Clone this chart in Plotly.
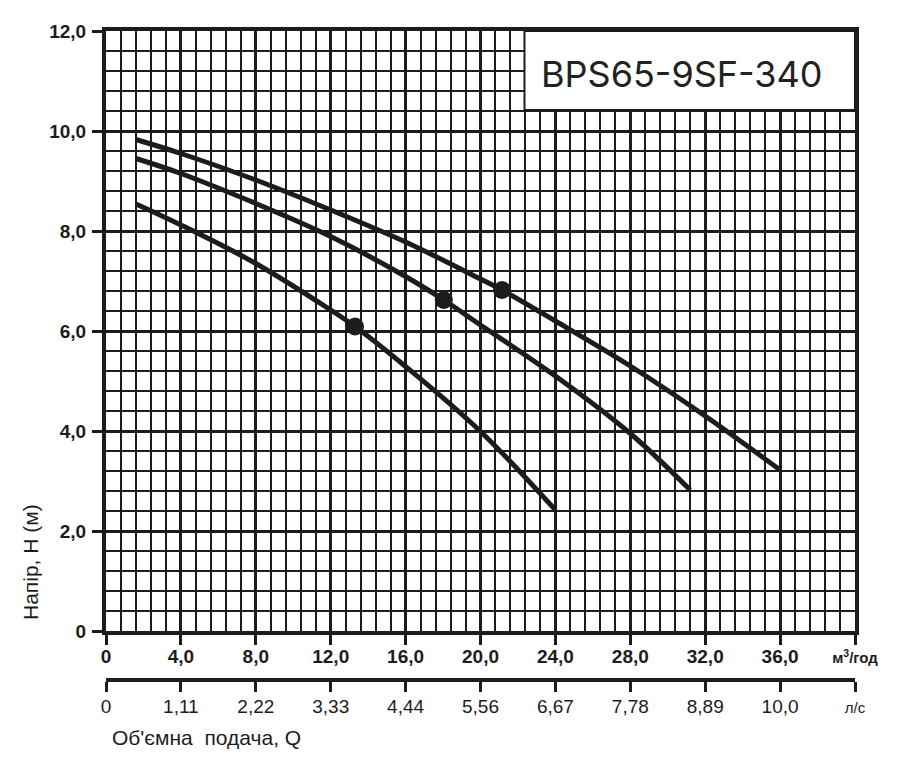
import plotly.graph_objects as go

# pump curves (Q in m3/h, H in m)
flow_top = [1.6, 4.0, 8.0, 12.0, 16.0, 20.0, 21.15, 24.0, 28.0, 32.0, 36.0]
head_top = [9.83, 9.55, 9.02, 8.42, 7.78, 7.04, 6.82, 6.2, 5.3, 4.3, 3.22]

flow_mid = [1.6, 4.0, 8.0, 12.0, 16.0, 18.04, 20.0, 24.0, 28.0, 31.2]
head_mid = [9.45, 9.15, 8.55, 7.89, 7.09, 6.62, 6.12, 5.1, 3.95, 2.82]

flow_low = [1.6, 4.0, 8.0, 12.0, 13.3, 16.0, 20.0, 24.0]
head_low = [8.54, 8.12, 7.35, 6.42, 6.09, 5.29, 3.99, 2.42]

duty_q = [21.15, 18.04, 13.3]
duty_h = [6.82, 6.62, 6.09]

q_ticks = [0, 4, 8, 12, 16, 20, 24, 28, 32, 36, 40]
q_labels = ["0", "4,0", "8,0", "12,0", "16,0", "20,0", "24,0", "28,0", "32,0", "36,0",
            "<span style='font-size:15px'>м<sup>3</sup>/год</span>"]
ls_labels = ["0", "1,11", "2,22", "3,33", "4,44", "5,56", "6,67", "7,78", "8,89", "10,0",
             "<span style='font-size:15px'>л/с</span>"]
h_ticks = [0, 2, 4, 6, 8, 10, 12]
h_labels = ["0", "2,0", "4,0", "6,0", "8,0", "10,0", "12,0"]

model = "BPS65-9SF-340"

INK = "#1c1c1c"
FONT = "Arial, Liberation Sans, sans-serif"

fig = go.Figure()
for q, h in [(flow_top, head_top), (flow_mid, head_mid), (flow_low, head_low)]:
    fig.add_trace(go.Scatter(x=q, y=h, mode="lines", line=dict(color=INK, width=5, shape="spline"),
                             showlegend=False, hoverinfo="skip"))
fig.add_trace(go.Scatter(x=duty_q, y=duty_h, mode="markers", marker=dict(color=INK, size=18),
                         showlegend=False, hoverinfo="skip"))
# dummy trace so the l/s axis is drawn
fig.add_trace(go.Scatter(x=[0], y=[0], xaxis="x2", mode="markers", marker=dict(opacity=0),
                         showlegend=False, hoverinfo="skip"))

# page has an 8px body margin, so the figure is sized to fit inside the window
W, H = 899, 751
L, R, T, B = 98, 52, 23, 45
plot_w = W - L - R
plot_h = H - T - B
bottom_frac = (H - B - 623) / plot_h
ls_pos = (H - B - 672) / plot_h

fig.update_layout(
    width=W, height=H,
    margin=dict(l=L, r=R, t=T, b=B),
    plot_bgcolor="white", paper_bgcolor="white",
    font=dict(family=FONT, color=INK),
    xaxis=dict(
        range=[0, 40], tickvals=q_ticks, ticktext=q_labels,
        tickfont=dict(size=19, weight="bold"), ticklabelstandoff=-5,
        showline=True, linewidth=4, linecolor=INK, mirror=True,
        showgrid=True, gridcolor=INK, gridwidth=3, zeroline=False,
        ticks="outside", ticklen=10, tickwidth=3, tickcolor=INK,
        minor=dict(dtick=0.8, tick0=0, showgrid=True, gridcolor=INK, gridwidth=1.5),
        anchor="y",
    ),
    xaxis2=dict(
        range=[0, 40], overlaying="x", anchor="free", position=ls_pos, side="bottom",
        tickvals=q_ticks, ticktext=ls_labels, tickfont=dict(size=19), ticklabelstandoff=-2,
        showline=True, linewidth=4, linecolor=INK, showgrid=False, zeroline=False,
        ticks="outside", ticklen=10, tickwidth=3, tickcolor=INK,
    ),
    yaxis=dict(
        range=[0, 12], domain=[bottom_frac, 1], tickvals=h_ticks, ticktext=h_labels,
        tickfont=dict(size=19, weight="bold"), ticklabelstandoff=2,
        showline=True, linewidth=4, linecolor=INK, mirror=True,
        showgrid=True, gridcolor=INK, gridwidth=3, zeroline=False,
        ticks="outside", ticklen=10, tickwidth=3, tickcolor=INK,
        minor=dict(dtick=0.4, tick0=0, showgrid=True, gridcolor=INK, gridwidth=1.5),
    ),
)

# model name box in the top right corner
fig.add_shape(type="rect", x0=22.35, x1=40, y0=10.42, y1=12, xref="x", yref="y",
              fillcolor="white", line=dict(color=INK, width=2), layer="above")
fig.add_annotation(x=30.76, y=11.14, xref="x", yref="y", text=model, showarrow=False,
                   font=dict(family="Inter, Noto Sans, sans-serif", size=36, color="#222"))

# axis titles, placed by page pixel
fig.add_annotation(x=30, y=562, xref="paper", yref="paper", text="Напір, Н (м)",
                   showarrow=False, textangle=-90, xanchor="center", yanchor="middle",
                   font=dict(size=21, color=INK))
fig.add_annotation(x=110, y=737, xref="paper", yref="paper", text="Об'ємна  подача, Q",
                   showarrow=False, xanchor="left", yanchor="middle",
                   font=dict(size=21, color=INK))

for ann in fig.layout.annotations[1:]:
    ann.x = (ann.x - 8 - L) / plot_w
    ann.y = (H - B - (ann.y - 8)) / plot_h

fig.write_html("out.html")
